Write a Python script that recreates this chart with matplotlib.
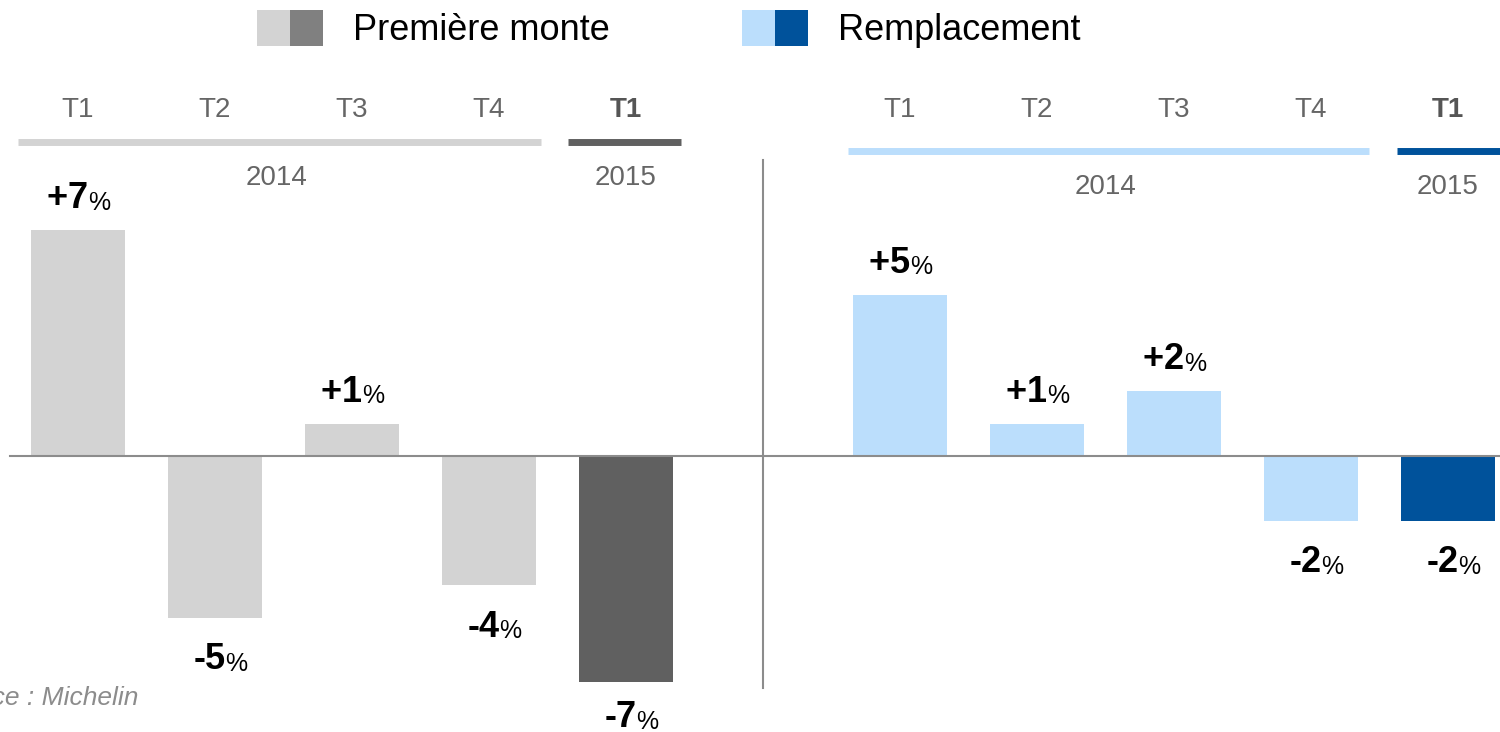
import numpy as np
import matplotlib.pyplot as plt
from matplotlib.patches import Rectangle

plt.rcParams['font.family'] = ['Liberation Sans', 'DejaVu Sans']

# data
quarters = ["T1", "T2", "T3", "T4", "T1"]
years = ["2014", "2015"]
om_values = [7, -5, 1, -4, -7]        # Première monte
rt_values = [5, 1, 2, -2, -2]         # Remplacement

# colours
om_light, om_dark, om_leg = "#d3d3d3", "#606060", "#808080"
rt_light, rt_dark = "#bbdefc", "#00529b"
txt_grey = "#666666"

# layout helpers (figure is 1500x732 px, axes fill it)
PX_X = 137.0     # px per category
X0 = 78.0        # px of first bar centre
Y0 = 456.0       # px of zero line
PX_Y = 32.3      # px per percent


def py(p):
    return (Y0 - p) / PX_Y


def px(p):
    return (p - X0) / PX_X


fig = plt.figure(figsize=(15, 7.32), dpi=100)
ax = fig.add_axes([0, 0, 1, 1])
ax.set_xlim(px(0), px(1500))
ax.set_ylim(py(732), py(0))
ax.axis("off")

x_om = np.arange(5)
x_rt = np.arange(5) + 6
w = 0.69

ax.bar(x_om, om_values, width=w, color=[om_light] * 4 + [om_dark])
ax.bar(x_rt, rt_values, width=w, color=[rt_light] * 4 + [rt_dark])

# zero line and divider
ax.plot([px(10), px(1500)], [0, 0], color="#8c8c8c", lw=1.5)
ax.plot([5, 5], [py(160), py(688)], color="#8c8c8c", lw=1.5)


def value_label(x, v):
    sign = "+" if v > 0 else "-"
    y = v + 0.68 if v > 0 else max(v - 1.6, py(727))
    t = ax.text(x, y, str(abs(v)), ha="center", va="baseline",
                fontsize=26, fontweight="bold", color="black")
    ax.annotate(sign, xy=(0, 0), xycoords=t, ha="right", va="bottom",
                xytext=(0.5 if v < 0 else 0, 0), textcoords="offset points",
                fontsize=26, fontweight="bold", color="black")
    ax.annotate("%", xy=(1, 0), xycoords=t, ha="left", va="bottom",
                xytext=(0, 1), textcoords="offset points",
                fontsize=18, color="black")


for x, v in zip(x_om, om_values):
    value_label(x, v)
for x, v in zip(x_rt, rt_values):
    value_label(x, v)

# quarter labels
for i, q in enumerate(quarters):
    last = i == 4
    for xs in (x_om, x_rt):
        ax.text(xs[i], py(110), q, ha="center", va="center", fontsize=20,
                color="#555555" if last else txt_grey,
                fontweight="bold" if last else "normal")

# group underlines
ax.plot([px(18), px(541)], [py(142)] * 2, color=om_light, lw=5, solid_capstyle="butt")
ax.plot([px(568), px(681)], [py(142)] * 2, color=om_dark, lw=5, solid_capstyle="butt")
ax.plot([px(848), px(1369)], [py(151)] * 2, color=rt_light, lw=5, solid_capstyle="butt")
ax.plot([px(1397), px(1500)], [py(151)] * 2, color=rt_dark, lw=5, solid_capstyle="butt")

# year labels
ax.text(1.45, py(178), years[0], ha="center", va="center", fontsize=20, color=txt_grey)
ax.text(4, py(178), years[1], ha="center", va="center", fontsize=20, color=txt_grey)
ax.text(7.5, py(187), years[0], ha="center", va="center", fontsize=20, color=txt_grey)
ax.text(10, py(187), years[1], ha="center", va="center", fontsize=20, color=txt_grey)


# legend
def legend_item(x_left, light, dark, label):
    ax.add_patch(Rectangle((px(x_left), py(46)), 33 / PX_X, 36 / PX_Y,
                           color=light, lw=0))
    ax.add_patch(Rectangle((px(x_left + 33), py(46)), 33 / PX_X, 36 / PX_Y,
                           color=dark, lw=0))
    ax.text(px(x_left + 96), py(31), label, ha="left", va="center",
            fontsize=26, color="black")


legend_item(257, om_light, om_leg, "Première monte")
legend_item(742, rt_light, rt_dark, "Remplacement")

# source
ax.text(px(138), py(705), "Source : Michelin", ha="right", va="baseline",
        fontsize=19, style="italic", color="#8c8c8c")

fig.savefig("out.png", dpi=100)
